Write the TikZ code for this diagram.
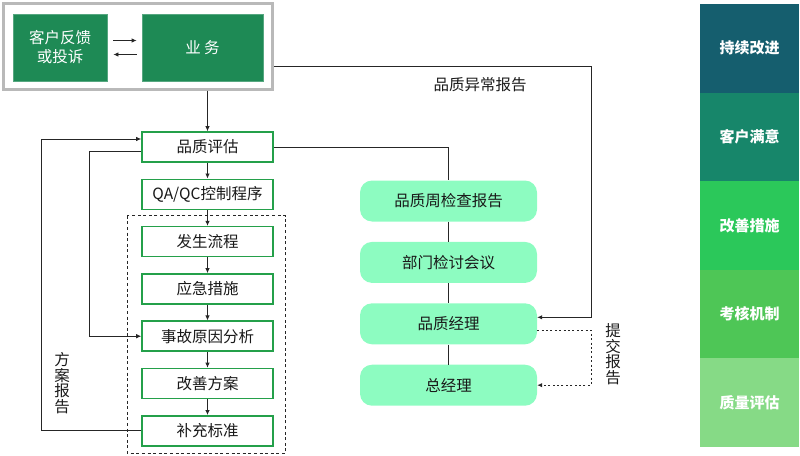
\documentclass[tikz,border=0pt]{standalone}
\usepackage{fontspec}
\setmainfont{Noto Sans CJK SC}
\usetikzlibrary{arrows.meta,positioning}

\definecolor{deepgreen}{HTML}{1E8A55}
\definecolor{stepgreen}{HTML}{24A04A}
\definecolor{mint}{HTML}{8DFCC1}
\definecolor{bandA}{HTML}{155E6E}
\definecolor{bandB}{HTML}{17866A}
\definecolor{bandC}{HTML}{2BC85A}
\definecolor{bandD}{HTML}{4EC656}
\definecolor{bandE}{HTML}{86DA86}

\tikzset{
    darkbox/.style={draw=deepgreen!75!white, line width=0.8pt, fill=deepgreen, text=white,
        inner sep=0pt, align=center, font=\fontsize{15.5}{19}\selectfont},
    stepbox/.style={draw=stepgreen, line width=1.6pt, fill=white, minimum width=131pt,
        minimum height=30pt, inner sep=0pt, text=black!90, font=\fontsize{15.5}{18}\selectfont},
    roundbox/.style={fill=mint, rounded corners=12pt, minimum width=177pt, minimum height=41pt,
        inner sep=0pt, text=black!90, font=\fontsize{15.5}{18}\selectfont},
    band/.style={minimum width=99pt, minimum height=88.6pt, inner sep=0pt, text=white,
        font=\bfseries\fontsize{15}{18}\selectfont},
    flow/.style={-{Latex[length=5pt,width=4.5pt]}, line width=0.8pt, black!85},
    plain/.style={line width=0.8pt, black!85},
    vlabel/.style={align=center, text=black!90, font=\fontsize{15.5}{15.5}\selectfont},
}

\begin{document}
\begin{tikzpicture}[x=1pt, y=-1pt]
    \useasboundingbox (0,0) rectangle (800,455);

    % top frame: complaint and business
    \node[draw=gray!55, line width=3pt, minimum width=269pt, minimum height=86pt] (frame) at (138,46) {};
    \node[darkbox, minimum width=94pt, minimum height=67pt] (complaint) at (60,47.5) {客户反馈\\或投诉};
    \node[darkbox, minimum width=121pt, minimum height=67pt] (business) at (202.5,47.5) {业\ 务};
    \draw[flow] ([xshift=6pt,yshift=7pt]complaint.east) -- ([xshift=-5pt,yshift=7pt]business.west);
    \draw[flow] ([xshift=-5pt,yshift=-7pt]business.west) -- ([xshift=6pt,yshift=-7pt]complaint.east);

    % handling steps
    \node[stepbox] (eval) at (207.5,147) {品质评估};
    \node[stepbox, below=15.7pt of eval] (qaqc) {QA/QC控制程序};
    \node[stepbox, below=15.7pt of qaqc] (occur) {发生流程};
    \node[stepbox, below=15.7pt of occur] (emerg) {应急措施};
    \node[stepbox, below=15.7pt of emerg] (cause) {事故原因分析};
    \node[stepbox, below=15.7pt of cause] (plan) {改善方案};
    \node[stepbox, below=15.7pt of plan] (std) {补充标准};

    \draw[flow] (eval.north |- frame.south) -- (eval.north);
    \foreach \a/\b in {eval/qaqc, qaqc/occur, occur/emerg, emerg/cause, cause/plan, plan/std}
        \draw[flow] (\a) -- (\b);

    \draw[line width=1.1pt, black!85, dash pattern=on 3pt off 2.6pt] ([shift={(-14,-10)}]occur.north west) rectangle ([shift={(12,6.5)}]std.south east);

    % feedback loops on the left
    \coordinate (loopA) at (41,139);
    \coordinate (loopB) at (89,151);
    \draw[flow] (std.west) -- (std.west -| loopA) -- (loopA) -- (loopA -| eval.west);
    \draw[flow] (eval.west |- loopB) -- (loopB) |- (cause.west);
    \node[vlabel] (planlabel) at (62,383) {方\\案\\报\\告};

    % reporting chain
    \node[roundbox] (weekly) at (448.5,201) {品质周检查报告};
    \node[roundbox, below=20pt of weekly] (meeting) {部门检讨会议};
    \node[roundbox, below=20pt of meeting] (qmgr) {品质经理};
    \node[roundbox, below=20pt of qmgr] (gm) {总经理};

    \draw[plain] (eval.east) -| (weekly.north);
    \foreach \a/\b in {weekly/meeting, meeting/qmgr, qmgr/gm}
        \draw[plain] (\a) -- (\b);

    % abnormal report and submit report
    \coordinate (turnA) at (591,66);
    \draw[flow] (frame.east |- turnA) -- (turnA) |- ([yshift=6.5pt]qmgr.east);
    \node[text=black!90, font=\fontsize{15.5}{18}\selectfont] (abnlabel) at (480,85) {品质异常报告};
    \draw[flow, line width=1pt, dash pattern=on 2pt off 2.4pt] ([yshift=-6.5pt]qmgr.east) -- ([yshift=-6.5pt]qmgr.east -| turnA) |- (gm.east);
    \node[vlabel] (sublabel) at (613,354) {提\\交\\报\\告};

    % side bands
    \foreach \txt/\col [count=\i] in {持续改进/bandA, 客户满意/bandB, 改善措施/bandC, 考核机制/bandD, 质量评估/bandE}
        \node[band, fill=\col] (band\i) at (749.5, {4+88.6*(\i-0.5)}) {\txt};

\end{tikzpicture}
\end{document}
